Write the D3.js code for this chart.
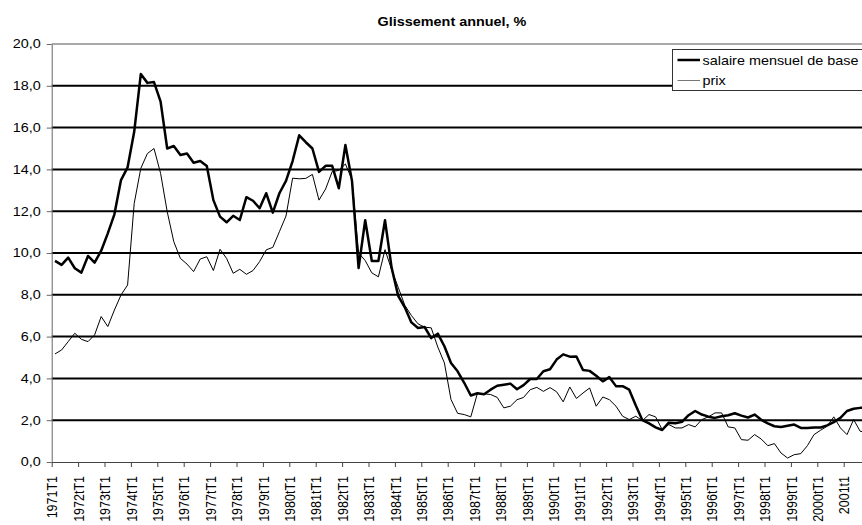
<!DOCTYPE html>
<html>
<head>
<meta charset="utf-8">
<script src="https://cdn.jsdelivr.net/npm/d3@7"></script>
<style>
body { margin:0; background:#fff; }
svg { display:block; font-family:"Liberation Sans", Arial, sans-serif; }
</style>
</head>
<body>
<svg width="862" height="525"></svg>
<script>
// glissement annuel, trimestriel 1971T1 - 2001T4
var salaire = [
 9.62, 9.43, 9.78, 9.27, 9.06, 9.86, 9.54, 10.11,
 10.94, 11.85, 13.49, 14.1, 15.8, 18.56, 18.14, 18.18,
 17.24, 15.0, 15.12, 14.69, 14.76, 14.32, 14.4, 14.16,
 12.53, 11.74, 11.47, 11.78, 11.58, 12.67, 12.5, 12.14,
 12.86, 11.93, 12.86, 13.45, 14.4, 15.63, 15.3, 15.0,
 13.88, 14.17, 14.17, 13.1, 15.17, 13.45, 9.28, 11.57,
 9.62, 9.62, 11.57, 9.3, 7.95, 7.4, 6.68, 6.41,
 6.46, 5.93, 6.14, 5.54, 4.74, 4.34, 3.79, 3.18,
 3.29, 3.24, 3.46, 3.65, 3.7, 3.75, 3.48, 3.68,
 3.97, 3.97, 4.34, 4.44, 4.9, 5.15, 5.04, 5.05,
 4.4, 4.36, 4.13, 3.86, 4.06, 3.63, 3.63, 3.46,
 2.7, 2.0, 1.85, 1.66, 1.53, 1.88, 1.85, 1.92,
 2.24, 2.44, 2.27, 2.17, 2.11, 2.19, 2.24, 2.33,
 2.22, 2.13, 2.27, 2.02, 1.85, 1.71, 1.67, 1.73,
 1.79, 1.63, 1.63, 1.65, 1.65, 1.75, 1.91, 2.11,
 2.44, 2.55, 2.59, 2.6
]
var prix = [
 5.17, 5.36, 5.76, 6.16, 5.87, 5.76, 6.08, 6.96,
 6.48, 7.27, 7.99, 8.47, 12.37, 14.05, 14.76, 15.0,
 13.81, 11.98, 10.54, 9.74, 9.47, 9.11, 9.71, 9.82,
 9.16, 10.18, 9.74, 9.03, 9.22, 8.98, 9.16, 9.59,
 10.15, 10.27, 11.02, 11.77, 13.58, 13.55, 13.57, 13.76,
 12.53, 13.06, 13.9, 13.95, 14.26, 13.5, 10.0, 9.64,
 9.05, 8.86, 10.16, 9.2, 8.36, 7.5, 7.01, 6.61,
 6.45, 6.42, 5.5, 4.74, 2.99, 2.33, 2.27, 2.16,
 3.28, 3.26, 3.23, 3.09, 2.59, 2.67, 2.98, 3.09,
 3.46, 3.57, 3.38, 3.56, 3.36, 2.88, 3.59, 3.04,
 3.3, 3.54, 2.67, 3.11, 2.98, 2.67, 2.19, 2.03,
 2.19, 1.98, 2.27, 2.16, 1.55, 1.79, 1.63, 1.63,
 1.79, 1.68, 2.03, 2.16, 2.35, 2.35, 1.68, 1.63,
 1.07, 1.04, 1.31, 1.1, 0.78, 0.88, 0.43, 0.19,
 0.35, 0.4, 0.78, 1.31, 1.52, 1.71, 2.16, 1.63,
 1.31, 2.03, 1.47, 1.4
]
var tickLabels = ["1971T1","1972tT1","1973tT1","1974tT1","1975tT1","1976tT1","1977tT1",
 "1978tT1","1979tT1","1980tT1","1981tT1","1982tT1","1983tT1","1984tT1","1985tT1",
 "1986tT1","1987tT1","1988tT1","1989tT1","1990tT1","1991tT1","1992tT1","1993tT1",
 "1994tT1","1995tT1","1996tT1","1997tT1","1998tT1","1999tT1","2000tT1","2001t1"]
var yTicks = [0,2,4,6,8,10,12,14,16,18,20]
var seriesNames = ["salaire mensuel de base","prix"]

var margins = {left:51.7, top:44, bottom:462}
var step = 6.6
var n = salaire.length
var sx = 1.2   // texte un peu etire en largeur

var svg = d3.select("svg")

var xScale = d3.scaleLinear()
    .domain([0,n])
    .range([margins.left, margins.left+step*n])
var yScale = d3.scaleLinear()
    .domain([0,20])
    .range([margins.bottom, margins.top])

// titre
svg.append("text")
    .text("Glissement annuel, %")
    .attr("transform","translate(452,26) scale("+sx+",1)")
    .attr("text-anchor","middle")
    .attr("font-weight","bold")
    .attr("font-size","12px")

// grille
svg.append("g").selectAll("line")
    .data(yTicks.filter(function(d){return d>0 && d<20}))
    .enter()
    .append("line")
    .attr("x1", margins.left)
    .attr("x2", xScale(n))
    .attr("y1", function(d){return yScale(d)})
    .attr("y2", function(d){return yScale(d)})
    .attr("stroke","#000")
    .attr("stroke-width",2)

// bord haut
svg.append("line")
    .attr("x1", margins.left).attr("x2", xScale(n))
    .attr("y1", yScale(20)).attr("y2", yScale(20))
    .attr("stroke","#555").attr("stroke-width",1)

// axe y
var yAxis = d3.axisLeft(yScale)
    .tickValues(yTicks)
    .tickSize(5)
    .tickSizeOuter(0)
    .tickFormat(function(d){return d.toFixed(1).replace(".",",")})
var gy = svg.append("g")
    .attr("transform","translate("+margins.left+",0)")
    .call(yAxis)
gy.select(".domain").attr("stroke","#666")
gy.selectAll(".tick line").attr("stroke","#666")
gy.selectAll(".tick text")
    .attr("x",0)
    .attr("transform","translate(-11,0) scale("+sx+",1)")
    .attr("font-size","12px")
    .attr("font-family","Liberation Sans, Arial, sans-serif")
    .attr("fill","#000")

// axe x
var xAxis = d3.axisBottom(xScale)
    .tickValues(d3.range(0,n,4))
    .tickSize(5)
    .tickSizeOuter(0)
    .tickFormat(function(d,i){return tickLabels[i]})
var gx = svg.append("g")
    .attr("transform","translate(0,"+margins.bottom+")")
    .call(xAxis)
gx.select(".domain").attr("stroke","#444")
gx.selectAll(".tick line").attr("stroke","#444")
gx.selectAll(".tick text")
    .attr("transform","rotate(-90) scale(1,"+sx+")")
    .attr("x",-14)
    .attr("y",0)
    .attr("dy","0.35em")
    .attr("text-anchor","end")
    .attr("font-size","12.5px")
    .attr("font-family","Liberation Sans, Arial, sans-serif")
    .attr("fill","#000")

// courbes
var line = d3.line()
    .x(function(d,i){return xScale(i+0.5)})
    .y(function(d){return yScale(d)})

svg.append("path")
    .datum(salaire)
    .attr("d", line)
    .attr("fill","none")
    .attr("stroke","#000")
    .attr("stroke-width",2.5)
    .attr("stroke-linejoin","round")

svg.append("path")
    .datum(prix)
    .attr("d", line)
    .attr("fill","none")
    .attr("stroke","#000")
    .attr("stroke-width",1)

// legende
var legend = svg.append("g").attr("transform","translate(672.5,49.5)")
legend.append("rect")
    .attr("width",200).attr("height",41)
    .attr("fill","#fff").attr("stroke","#333").attr("stroke-width",1)
var items = legend.selectAll("g.item")
    .data(seriesNames)
    .enter()
    .append("g")
    .attr("class","item")
    .attr("transform",function(d,i){return "translate(0,"+(10.5+i*20.5)+")"})
items.append("line")
    .attr("x1",5).attr("x2",27.5)
    .attr("stroke",function(d,i){return i==0 ? "#000" : "#777"})
    .attr("stroke-width",function(d,i){return i==0 ? 2.5 : 1})
items.append("text")
    .text(function(d){return d})
    .attr("transform","translate(30,4.5) scale("+sx+",1)")
    .attr("font-size","12px")
</script>
</body>
</html>
